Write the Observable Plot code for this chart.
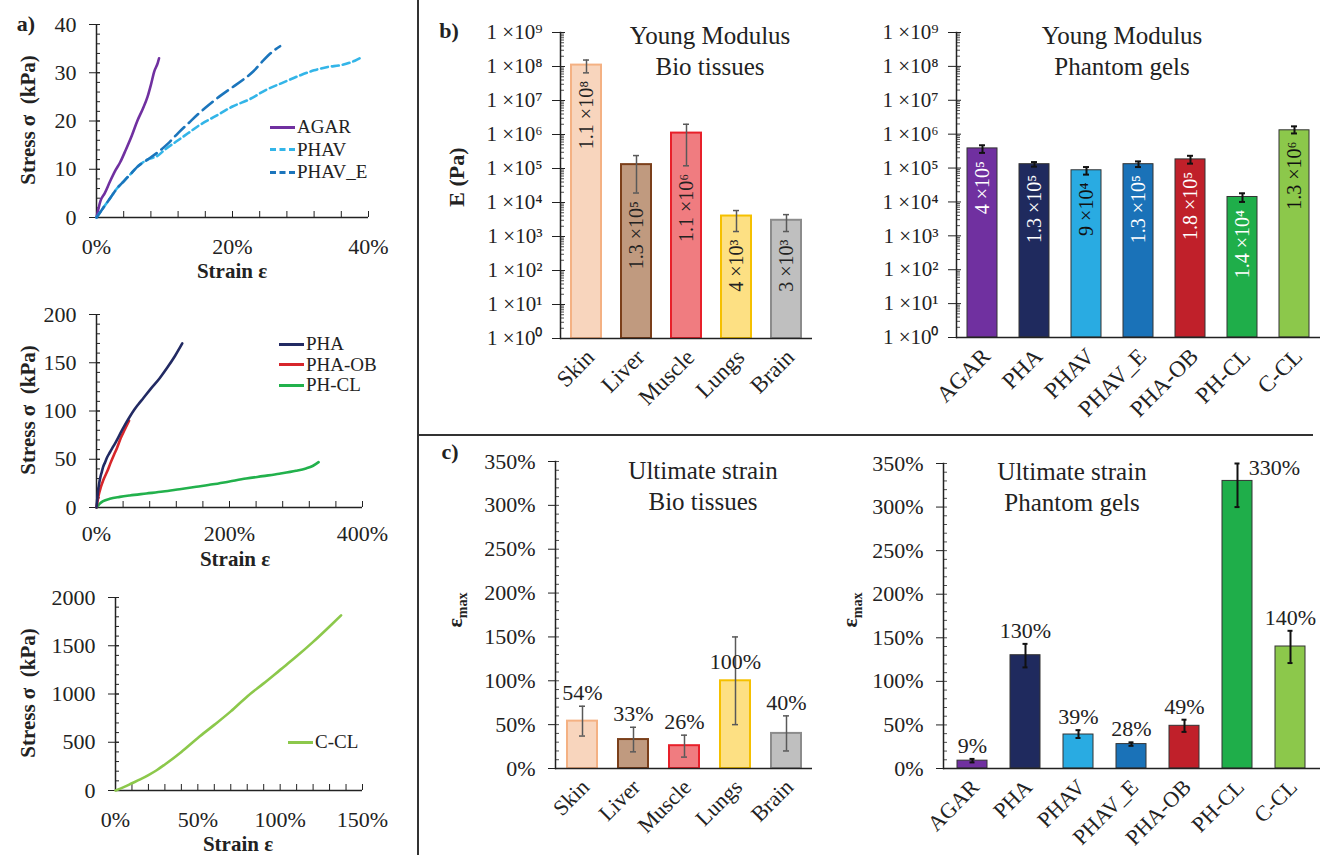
<!DOCTYPE html>
<html><head><meta charset="utf-8">
<script src="https://cdn.jsdelivr.net/npm/d3@7"></script>
<script src="https://cdn.jsdelivr.net/npm/@observablehq/plot@0.6"></script>
<style>
html,body{margin:0;padding:0;background:#fff;}
#root{position:relative;width:1320px;height:855px;overflow:hidden;font-family:"Liberation Serif","Times New Roman",serif;color:#222;background:#fff;}
.lbl{position:absolute;white-space:nowrap;line-height:1;}
.leg{position:absolute;display:flex;align-items:center;font-size:19px;white-space:nowrap;}
.leg span.s{display:inline-block;width:25px;height:0;margin-right:2px;}
</style></head><body><div id="root"></div>
<script>
// ---------- DATA ----------
// a) stress-strain curves (strain in %, stress in kPa)
const agarStrain = [0,0.6,1.2,2,2.8,3.5,4.3,5.2,6,6.8,7.5,8,8.5,9,9.2];
const agarStress = [0,3.5,5,7.5,9.8,11.5,14,17,20,22.5,25,27.5,30.3,32,33];
const phavStrain = [0,1,2,3,4,5,6,7.5,9,10,12,13.5,15,17.5,20,22.5,25,27.5,30,32,34,36,38,39];
const phavStress = [0,2,4,6,7.5,9,10.5,12,12.8,14,16,17.5,19,21,23,24.5,26.5,28,29.5,30.5,31.2,31.6,32.5,33.2];
const phaveStrain = [0,1,2,3,4,5,6,7.5,9,10.5,12,13.5,15,16.5,18,20,21.5,23,24.5,26,27];
const phaveStress = [0,2,4,6,7.5,9,10.5,12,13.5,15.3,17.5,19.5,21.5,23.3,25,27,28.5,30.2,32.5,34.5,35.5];
const phaStrain = [0,2,4,6,8,10,13,16,20,25,30,36,41.5,50,56.5,63,70,81.5,95,106.5,118,129];
const phaStress = [0,15,25,32,37,42,47,52,57,63,69,77,84,94,101,107,113,123,134,145,157,170];
const phaobStrain = [0,3,6.5,10,16.5,21,26.5,31,36.5,42,49];
const phaobStress = [0,12,21,28,38,46,55,62,72,80,90];
const phclStrain = [0,5,10,20,35,50,75,100,125,150,175,200,225,250,275,300,315,325,334];
const phclStress = [0,4,6.5,9,11,12.5,14.5,16.5,19,21.5,24,27,30,32.5,35,38,40.5,43,47];
const cclStrain = [0,5,10,15,20,25,30,40,50,60,70,80,90,100,110,120,130,137];
const cclStress = [0,35,75,115,160,210,270,400,545,680,820,975,1110,1250,1390,1540,1700,1815];

// b) Young modulus (Pa)
const bioNames = ["Skin","Liver","Muscle","Lungs","Brain"];
const bioE = [1.1e8,1.3e5,1.1e6,4e3,3e3];
const bioELo = [6.5e7,1.9e4,1.2e5,1.4e3,1.4e3];
const bioEHi = [1.55e8,2.4e5,2.0e6,5.8e3,4.4e3];
const bioELabels = ["1.1 ×10⁸","1.3 ×10⁵","1.1 ×10⁶","4 ×10³","3 ×10³"];
const gelNames = ["AGAR","PHA","PHAV","PHAV_E","PHA-OB","PH-CL","C-CL"];
const gelE = [3.8e5,1.3e5,8.6e4,1.3e5,1.8e5,1.4e4,1.3e6];
const gelELo = [2.8e5,1.1e5,6.4e4,1.07e5,1.35e5,1.0e4,1.05e6];
const gelEHi = [4.7e5,1.5e5,1.07e5,1.57e5,2.3e5,1.8e4,1.7e6];
const gelELabels = ["4 ×10⁵","1.3 ×10⁵","9 ×10⁴","1.3 ×10⁵","1.8 ×10⁵","1.4 ×10⁴","1.3 ×10⁶"];

// c) ultimate strain (%)
const bioStrain = [54,33,26,100,40];
const bioStrainLo = [37,19,13,50,20];
const bioStrainHi = [71,47,38,150,60];
const gelStrain = [9,130,39,28,49,330,140];
const gelStrainLo = [7,116,35,26,42,300,121];
const gelStrainHi = [11,143,44,30,56,350,158];

// palettes
const bioFill = ["#f8d5bd","#c09a7f","#f07c80","#fde083","#bfbfbf"];
const bioStroke = ["#f4b183","#7b3f1a","#e8202a","#f5c000","#8c8c8c"];
const gelFill = ["#7030a0","#1f2a5e","#29abe2","#1a72b8","#c0202a","#1fae4a","#8cc84b"];
const gelText = ["#fff","#fff","#111","#fff","#fff","#fff","#111"];

// ---------- HELPERS ----------
const root = document.getElementById("root");
const FONT = '"Liberation Serif","Times New Roman",serif';
const SUP = {"0":"⁰","1":"¹","2":"²","3":"³","4":"⁴","5":"⁵","6":"⁶","7":"⁷","8":"⁸","9":"⁹"};
function place(node, left, top){ node.style.position="absolute"; node.style.left=left+"px"; node.style.top=top+"px"; root.appendChild(node); }
function label(html, x, y, {size=22, bold=false, rot=false, align="center", lh=1}={}){
  const d=document.createElement("div"); d.className="lbl"; d.innerHTML=html;
  d.style.left=x+"px"; d.style.top=y+"px"; d.style.fontSize=size+"px"; d.style.lineHeight=lh;
  d.style.fontWeight=bold?"bold":"normal"; d.style.textAlign=align;
  d.style.transform="translate(-50%,-50%)"+(rot?" rotate(-90deg)":"");
  root.appendChild(d);
}
function legend(items, x, y0, gap){
  items.forEach((it,i)=>{
    const d=document.createElement("div"); d.className="leg";
    d.style.left=x+"px"; d.style.top=(y0+i*gap-11)+"px"; d.style.height="22px";
    const s=document.createElement("span"); s.className="s";
    s.style.borderTop=`3px ${it.dash?"dashed":"solid"} ${it.color}`;
    d.appendChild(s); d.appendChild(document.createTextNode(it.name));
    root.appendChild(d);
  });
}
const rows = (xs, ys) => xs.map((x,i)=>({x, y:ys[i]}));

function linePanel({W,H,ml,mr,mt,mb,xDom,yDom,xMaj,xMin,yMaj,yMin,series,xPad=21}){
  const marks = [
    Plot.axisY({ticks:yMaj, tickSize:0, tickPadding:20, tickFormat:d=>String(d), label:null, fontSize:22}),
    Plot.axisY({ticks:yMaj, tickSize:7, tickFormat:()=>"", label:null}),
    Plot.axisY({ticks:yMaj, tickSize:-4, tickFormat:()=>"", label:null}),
    Plot.axisY({ticks:yMin, tickSize:-4, tickFormat:()=>"", label:null}),
    Plot.axisX({ticks:xMaj, tickSize:0, tickPadding:xPad, tickFormat:d=>d+"%", label:null, fontSize:22}),
    Plot.axisX({ticks:xMin, tickSize:-6, tickFormat:()=>"", label:null}),
    Plot.ruleX([xDom[0]], {strokeWidth:1.5, stroke:"#222"}),
    Plot.ruleY([yDom[0]], {strokeWidth:1.5, stroke:"#222"})
  ];
  for (const s of series) marks.push(Plot.line(s.data, {x:"x", y:"y", stroke:s.color, strokeWidth:2.6, strokeDasharray:s.dash||null, curve:"monotone-x"}));
  return Plot.plot({width:W, height:H, marginLeft:ml, marginRight:mr, marginTop:mt, marginBottom:mb,
    style:{fontFamily:FONT, fontSize:"22px", color:"#222", background:"transparent", overflow:"visible"},
    x:{domain:xDom}, y:{domain:yDom}, marks});
}

// ---------- a) ----------
place(linePanel({W:410,H:290,ml:96,mr:42,mt:24,mb:73,xDom:[0,40],yDom:[0,40],
  xMaj:[0,20,40], xMin:d3.range(0,41,4), yMaj:[0,10,20,30,40], yMin:d3.range(0,41,2),
  series:[
    {data:rows(agarStrain,agarStress), color:"#7030a0"},
    {data:rows(phavStrain,phavStress), color:"#33b5e8", dash:"7,4"},
    {data:rows(phaveStrain,phaveStress), color:"#1b75bc", dash:"13,6"}
  ]}), 0, 0);
place(linePanel({W:410,H:290,ml:96,mr:48,mt:24,mb:73,xDom:[0,400],yDom:[0,200],xPad:18,
  xMaj:[0,200,400], xMin:d3.range(0,401,40), yMaj:[0,50,100,150,200], yMin:d3.range(0,201,10),
  series:[
    {data:rows(phclStrain,phclStress), color:"#22b14c"},
    {data:rows(phaobStrain,phaobStress), color:"#d7262b"},
    {data:rows(phaStrain,phaStress), color:"#222a63"}
  ]}), 0, 290);
place(linePanel({W:410,H:285,ml:115,mr:48,mt:27,mb:65,xDom:[0,150],yDom:[0,2000],
  xMaj:[0,50,100,150], xMin:d3.range(0,151,10), yMaj:[0,500,1000,1500,2000], yMin:d3.range(0,2001,100),
  series:[{data:rows(cclStrain,cclStress), color:"#8cc84b"}]}), 0, 570);

legend([{name:"AGAR",color:"#7030a0"},{name:"PHAV",color:"#33b5e8",dash:true},{name:"PHAV_E",color:"#1b75bc",dash:true}], 270, 127, 22.5);
legend([{name:"PHA",color:"#222a63"},{name:"PHA-OB",color:"#d7262b"},{name:"PH-CL",color:"#22b14c"}], 279, 344, 20.5);
legend([{name:"C-CL",color:"#8cc84b"}], 288, 742, 20);

label("a)", 26, 24, {bold:true});
for (const y of [120,410,693]) label("Stress σ&nbsp; (kPa)", 28, y, {bold:true, rot:true, size:21});
label("Strain ε", 232, 271, {bold:true, size:21});
label("Strain ε", 235, 559, {bold:true, size:21});
label("Strain ε", 238, 844, {bold:true, size:21});

// ---------- b) ----------
const decades = d3.range(0,10).map(k=>10**k);
const minorLog = [];
for (let k=0;k<9;k++) for (let m=2;m<10;m++) minorLog.push(m*10**k);
function logPanel({W,H,ml,mr,mt,mb,names,vals,lo,hi,labs,fill,stroke,sw,errColor,errW,txt,pi}){
  const data = names.map((n,i)=>({n, v:vals[i], lo:lo[i], hi:hi[i], lab:labs[i], f:fill[i], s:stroke[i], t:txt[i]}));
  return Plot.plot({width:W, height:H, marginLeft:ml, marginRight:mr, marginTop:mt, marginBottom:mb,
    style:{fontFamily:FONT, fontSize:"21px", color:"#222", background:"transparent", overflow:"visible"},
    x:{domain:names, paddingInner:pi, paddingOuter:pi/2}, y:{type:"log", domain:[1,1e9]},
    color:{type:"identity"},
    marks:[
      Plot.barY(data, {x:"n", y1:1, y2:"v", fill:"f", stroke:"s", strokeWidth:sw}),
      Plot.ruleX(data, {x:"n", y1:"lo", y2:"hi", stroke:errColor, strokeWidth:errW}),
      Plot.tickY(data, {x:"n", y:"hi", inset:12, stroke:errColor, strokeWidth:errW}),
      Plot.tickY(data, {x:"n", y:"lo", inset:12, stroke:errColor, strokeWidth:errW}),
      Plot.text(data, {x:"n", y:"lo", text:"lab", rotate:-90, textAnchor:"end", dy:8, fill:"t", fontSize:20}),
      Plot.axisY({ticks:decades, tickSize:0, tickPadding:18, tickFormat:d=>"1 ×10"+SUP[Math.round(Math.log10(d))], label:null, fontSize:21}),
      Plot.axisY({ticks:decades, tickSize:8, tickFormat:()=>"", label:null}),
      Plot.axisY({ticks:decades, tickSize:-5, tickFormat:()=>"", label:null}),
      Plot.axisY({ticks:minorLog, tickSize:-4, tickFormat:()=>"", label:null, strokeWidth:0.8}),
      Plot.axisX({tickSize:0, tickPadding:15, dx:4, tickRotate:-45, label:null, fontSize:23}),
      Plot.ruleY([1], {stroke:"#222", strokeWidth:1.5}),
      Plot.frame({anchor:"left", stroke:"#222", strokeWidth:1.5})
    ]});
}
place(logPanel({W:420,H:430,ml:140,mr:28,mt:32,mb:92,names:bioNames,vals:bioE,lo:bioELo,hi:bioEHi,labs:bioELabels,
  fill:bioFill, stroke:bioStroke, sw:2, errColor:"#595959", errW:1.5, txt:bioNames.map(()=>"#222"), pi:0.4}), 420, 0);
place(logPanel({W:480,H:430,ml:116,mr:0,mt:32,mb:93,names:gelNames,vals:gelE,lo:gelELo,hi:gelEHi,labs:gelELabels,
  fill:gelFill, stroke:gelNames.map(()=>"#333"), sw:1, errColor:"#111", errW:2, txt:gelText, pi:0.42}), 840, 0);

label("b)", 449, 31, {bold:true});
label("E (Pa)", 457, 177, {bold:true, rot:true});
label("Young Modulus<br>Bio tissues", 710, 51, {size:25, lh:1.24});
label("Young Modulus<br>Phantom gels", 1122, 51, {size:25, lh:1.24});

// ---------- c) ----------
function pctPanel({W,H,ml,mr,mt,mb,names,vals,lo,hi,fill,stroke,sw,errColor,errW,pi,capInset}){
  const data = names.map((n,i)=>({n, v:vals[i], lo:lo[i], hi:hi[i], f:fill[i], s:stroke[i]}));
  return Plot.plot({width:W, height:H, marginLeft:ml, marginRight:mr, marginTop:mt, marginBottom:mb,
    style:{fontFamily:FONT, fontSize:"22px", color:"#222", background:"transparent", overflow:"visible"},
    x:{domain:names, paddingInner:pi, paddingOuter:pi/2}, y:{domain:[0,350]},
    color:{type:"identity"},
    marks:[
      Plot.barY(data, {x:"n", y:"v", fill:"f", stroke:"s", strokeWidth:sw}),
      Plot.ruleX(data, {x:"n", y1:"lo", y2:"hi", stroke:errColor, strokeWidth:errW}),
      Plot.tickY(data, {x:"n", y:"hi", inset:capInset, stroke:errColor, strokeWidth:errW}),
      Plot.tickY(data, {x:"n", y:"lo", inset:capInset, stroke:errColor, strokeWidth:errW}),
      Plot.text(data, {filter:d=>d.hi<=340 && d.hi-d.v<=40, x:"n", y:"hi", text:d=>d.v+"%", lineAnchor:"bottom", dy:-6, fontSize:22, fill:"#222"}),
      Plot.text(data, {filter:d=>d.hi-d.v>40, x:"n", y:"v", text:d=>d.v+"%", lineAnchor:"bottom", dy:-12, fontSize:22, fill:"#222"}),
      Plot.text(data, {filter:d=>d.hi>340, x:"n", y:"hi", text:d=>d.v+"%", lineAnchor:"middle", dx:37, dy:4, fontSize:22, fill:"#222"}),
      Plot.axisY({ticks:d3.range(0,351,50), tickSize:0, tickPadding:20, tickFormat:d=>d+"%", label:null, fontSize:22}),
      Plot.axisY({ticks:d3.range(0,351,50), tickSize:7, tickFormat:()=>"", label:null}),
      Plot.axisY({ticks:d3.range(0,351,10), tickSize:-4, tickFormat:()=>"", label:null, strokeWidth:0.8}),
      Plot.axisX({tickSize:0, tickPadding:15, dx:3, tickRotate:-45, label:null, fontSize:22}),
      Plot.ruleY([0], {stroke:"#222", strokeWidth:1.5}),
      Plot.frame({anchor:"left", stroke:"#222", strokeWidth:1.5})
    ]});
}
place(pctPanel({W:420,H:425,ml:135,mr:28,mt:31,mb:87,names:bioNames,vals:bioStrain,lo:bioStrainLo,hi:bioStrainHi,
  fill:bioFill, stroke:bioStroke, sw:2, errColor:"#595959", errW:1.5, pi:0.42, capInset:12}), 420, 430);
place(pctPanel({W:500,H:425,ml:123,mr:0,mt:33,mb:87,names:gelNames,vals:gelStrain,lo:gelStrainLo,hi:gelStrainHi,
  fill:gelFill, stroke:gelNames.map(()=>"#333"), sw:1, errColor:"#111", errW:2, pi:0.425, capInset:12.5}), 820, 430);

label("c)", 450, 452, {bold:true});
label("ε<sub style='font-size:14px'>max</sub>", 457, 610, {bold:true, rot:true});
label("ε<sub style='font-size:14px'>max</sub>", 852, 610, {bold:true, rot:true});
label("Ultimate strain<br>Bio tissues", 703, 486, {size:25, lh:1.24});
label("Ultimate strain<br>Phantom gels", 1072, 487, {size:25, lh:1.24});

// dividers
const v=document.createElement("div"); v.style.cssText="position:absolute;left:417px;top:0;width:1.5px;height:855px;background:#333;"; root.appendChild(v);
const h=document.createElement("div"); h.style.cssText="position:absolute;left:417px;top:434px;width:896px;height:1.5px;background:#333;"; root.appendChild(h);
</script></body></html>
